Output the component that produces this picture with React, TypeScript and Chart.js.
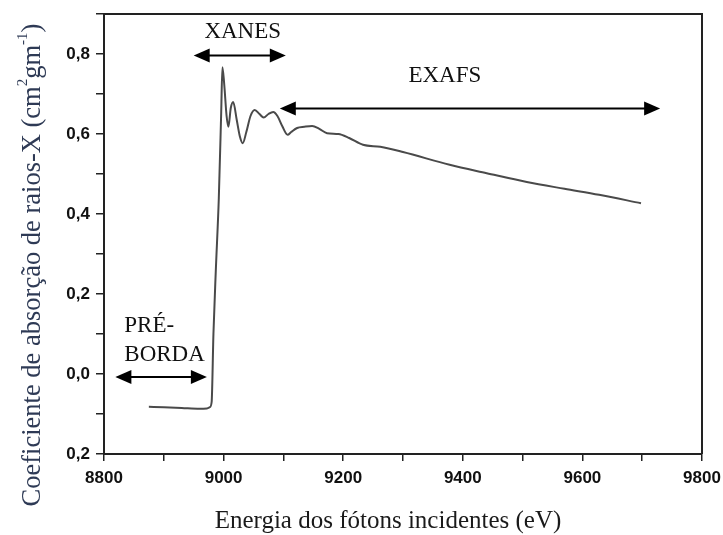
import React, { useEffect, useRef } from "react";
import { Chart, registerables } from "chart.js";

Chart.register(...registerables);

// Energy (eV)
const energy = [
  8875, 8900, 8930, 8960, 8972, 8977, 8980, 8983, 8987, 8992, 8996, 8998,
  9001, 9005, 9008, 9012, 9016, 9022, 9027, 9032, 9038, 9045, 9052, 9060,
  9067, 9075, 9083, 9090, 9098, 9107, 9113, 9123, 9135, 9148, 9160, 9173,
  9192, 9210, 9233, 9262, 9300, 9378, 9440, 9507, 9570, 9628, 9698,
];
// Absorption coefficient
const absorption = [
  -0.082, -0.083, -0.085, -0.087, -0.086, -0.083, -0.07, 0.1, 0.26, 0.44,
  0.655, 0.767, 0.725, 0.645, 0.618, 0.665, 0.68, 0.635, 0.595, 0.577, 0.605,
  0.645, 0.66, 0.65, 0.641, 0.65, 0.655, 0.645, 0.62, 0.598, 0.605, 0.615,
  0.618, 0.62, 0.613, 0.602, 0.6, 0.59, 0.573, 0.568, 0.555, 0.523, 0.502,
  0.48, 0.463, 0.448, 0.427,
];

const xTickLabels: Record<number, string> = {
  8800: "8800", 9000: "9000", 9200: "9200", 9400: "9400", 9600: "9600", 9800: "9800",
};
const yTickLabels: Record<string, string> = {
  "-0.2": "0,2", "0.0": "0,0", "0.2": "0,2", "0.4": "0,4", "0.6": "0,6", "0.8": "0,8",
};

// Region annotations (data coordinates)
const regionArrows = [
  { x1: 8819, x2: 8972, y: -0.0075 },
  { x1: 8950, x2: 9104, y: 0.7965 },
  { x1: 9094, x2: 9730, y: 0.664 },
];
const regionLabels = [
  { text: "XANES", x: 9032, y: 0.84, align: "center" },
  { text: "EXAFS", x: 9370, y: 0.729, align: "center" },
  { text: "PRÉ-", x: 8834, y: 0.105, align: "left" },
  { text: "BORDA", x: 8834, y: 0.032, align: "left" },
];

const serif = '"Liberation Serif", "DejaVu Serif", serif';
const sans = '"Liberation Sans", Arial, sans-serif';

const decorPlugin = {
  id: "decor",
  afterDraw(chart: any) {
    const { ctx, chartArea, scales } = chart;
    const xs = scales.x;
    const ys = scales.y;
    ctx.save();
    // frame top & right
    ctx.strokeStyle = "#222";
    ctx.lineWidth = 2;
    ctx.beginPath();
    ctx.moveTo(chartArea.left, chartArea.top);
    ctx.lineTo(chartArea.right, chartArea.top);
    ctx.lineTo(chartArea.right, chartArea.bottom);
    ctx.stroke();

    // arrows
    ctx.fillStyle = "#000";
    ctx.strokeStyle = "#000";
    for (const a of regionArrows) {
      const px1 = xs.getPixelForValue(a.x1);
      const px2 = xs.getPixelForValue(a.x2);
      const py = ys.getPixelForValue(a.y);
      const hl = 16;
      const hw = 7;
      ctx.lineWidth = 2;
      ctx.beginPath();
      ctx.moveTo(px1 + hl - 2, py);
      ctx.lineTo(px2 - hl + 2, py);
      ctx.stroke();
      ctx.beginPath();
      ctx.moveTo(px1, py);
      ctx.lineTo(px1 + hl, py - hw);
      ctx.lineTo(px1 + hl, py + hw);
      ctx.closePath();
      ctx.fill();
      ctx.beginPath();
      ctx.moveTo(px2, py);
      ctx.lineTo(px2 - hl, py - hw);
      ctx.lineTo(px2 - hl, py + hw);
      ctx.closePath();
      ctx.fill();
    }

    // labels
    ctx.font = `23px ${serif}`;
    ctx.textBaseline = "alphabetic";
    ctx.fillStyle = "#111";
    for (const l of regionLabels) {
      ctx.textAlign = l.align as CanvasTextAlign;
      ctx.fillText(l.text, xs.getPixelForValue(l.x), ys.getPixelForValue(l.y));
    }

    // y axis title with superscripts
    const size = 26.5;
    const supSize = 15;
    const segs = [
      { t: "Coeficiente de absorção de raios-X (cm", sup: false },
      { t: "2", sup: true },
      { t: "gm", sup: false },
      { t: "-1", sup: true },
      { t: ")", sup: false },
    ];
    let total = 0;
    const widths: number[] = [];
    for (const s of segs) {
      ctx.font = `${s.sup ? supSize : size}px ${serif}`;
      const w = ctx.measureText(s.t).width;
      widths.push(w);
      total += w;
    }
    ctx.translate(33, 265);
    ctx.rotate(-Math.PI / 2);
    ctx.fillStyle = "#2e3a55";
    ctx.textAlign = "left";
    ctx.textBaseline = "middle";
    let cx = -total / 2;
    segs.forEach((s, i) => {
      ctx.font = `${s.sup ? supSize : size}px ${serif}`;
      ctx.fillText(s.t, cx, s.sup ? -10 : 0);
      cx += widths[i];
    });
    ctx.restore();

    // x axis title
    ctx.save();
    ctx.font = `25px ${serif}`;
    ctx.fillStyle = "#1a1a1a";
    ctx.textAlign = "center";
    ctx.textBaseline = "alphabetic";
    ctx.fillText("Energia dos fótons incidentes (eV)", 388, 528);
    ctx.restore();
  },
};

export default function App() {
  const ref = useRef<HTMLCanvasElement | null>(null);
  useEffect(() => {
    document.body.style.margin = "0";
    const canvas = ref.current;
    if (!canvas) return;
    const chart = new Chart(canvas, {
      type: "line",
      data: {
        datasets: [
          {
            data: energy.map((x, i) => ({ x, y: absorption[i] })),
            borderColor: "#4a4a4a",
            borderWidth: 2,
            pointRadius: 0,
            fill: false,
            cubicInterpolationMode: "monotone",
          },
        ],
      },
      options: {
        responsive: false,
        animation: false,
        events: [],
        layout: { autoPadding: false, padding: { left: 0, top: 14, right: 21, bottom: 0 } },
        plugins: { legend: { display: false }, tooltip: { enabled: false }, title: { display: false } },
        scales: {
          x: {
            type: "linear",
            min: 8800,
            max: 9800,
            afterFit: (s: any) => {
              s.height = 81;
              s.paddingLeft = 0;
              s.paddingRight = 0;
            },
            afterBuildTicks: (s: any) => {
              const t = [];
              for (let v = 8800; v <= 9800; v += 100) t.push({ value: v });
              s.ticks = t;
            },
            ticks: {
              autoSkip: false,
              maxRotation: 0,
              padding: 7,
              color: "#111",
              font: { family: sans, size: 17, weight: "bold" },
              callback: (v: any) => xTickLabels[Math.round(Number(v))] ?? "",
            },
            grid: { drawOnChartArea: false, drawTicks: true, tickLength: 7, color: "#222", lineWidth: 1.5 },
            border: { display: true, color: "#222", width: 2 },
          },
          y: {
            type: "linear",
            min: -0.2,
            max: 0.9,
            afterFit: (s: any) => {
              s.width = 104;
              s.paddingTop = 0;
              s.paddingBottom = 0;
            },
            afterBuildTicks: (s: any) => {
              const t = [];
              for (let k = -2; k <= 9; k++) t.push({ value: k / 10 });
              s.ticks = t;
            },
            ticks: {
              autoSkip: false,
              padding: 6,
              color: "#111",
              font: { family: sans, size: 17, weight: "bold" },
              callback: (v: any) => yTickLabels[Number(v).toFixed(1)] ?? "",
            },
            grid: { drawOnChartArea: false, drawTicks: true, tickLength: 8, color: "#222", lineWidth: 1.5 },
            border: { display: true, color: "#222", width: 2 },
          },
        },
      },
      plugins: [decorPlugin],
    } as any);
    return () => chart.destroy();
  }, []);
  return <canvas ref={ref} width={723} height={535} style={{ display: "block" }} />;
}
